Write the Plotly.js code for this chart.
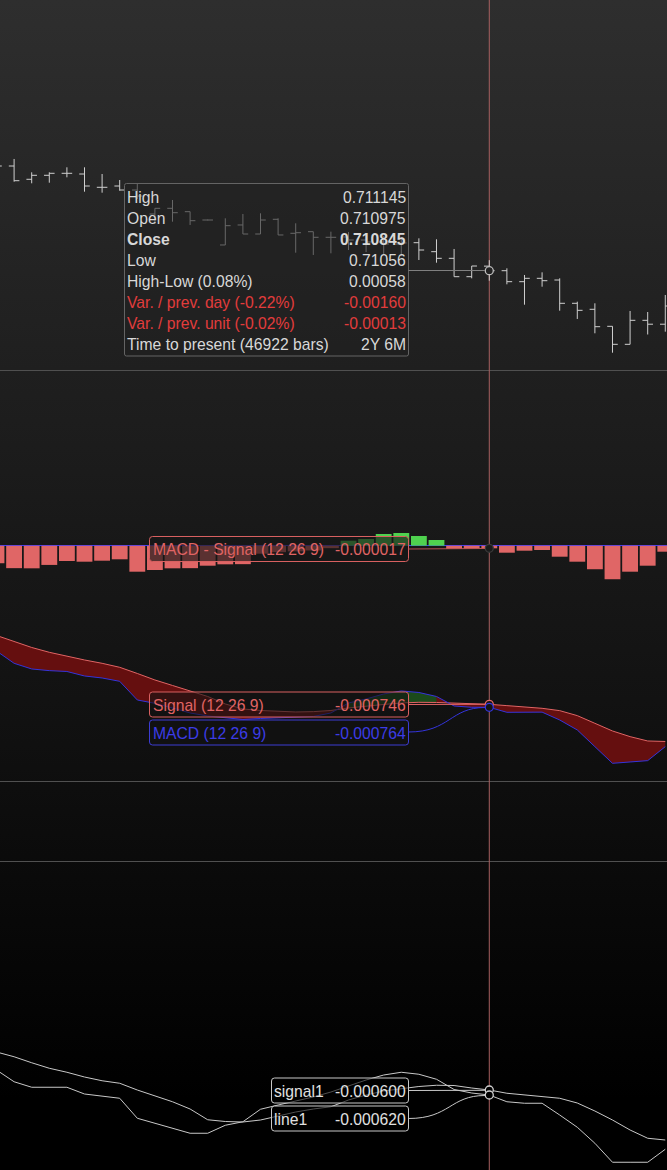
<!DOCTYPE html>
<html><head><meta charset="utf-8">
<script src="https://cdn.plot.ly/plotly-3.0.1.min.js"></script>
<style>
html,body{margin:0;padding:0;width:667px;height:1170px;overflow:hidden;
background:linear-gradient(to bottom,#2e2e2e 0px,#1f1f1f 370px,#121212 700px,#000000 1100px,#000000 1170px);}
#chart{width:667px;height:1170px;}
</style></head><body><div id="chart"></div>
<script>
// ---------- data ----------
const barIndex = [0,1,2,3,4,5,6,7,8,9,10,11,12,13,14,15,16,17,18,19,20,21,22,23,24,25,26,27,28,29,30,31,32,33,34,35,36,37,38];
const crossIdx = 28;

const openP = [0.713772,0.713829,0.713450,0.713564,0.713621,0.713601,0.713222,0.713259,0.713145,0.712461,
  0.712623,0.712527,0.712290,0.711578,0.712148,0.711891,0.712310,0.711911,0.711957,0.711797,
  0.711806,0.711720,0.711663,0.711606,0.711643,0.711387,0.711198,0.710674,0.710975,0.710845,
  0.710532,0.710628,0.710580,0.709916,0.709745,0.709260,0.708747,0.709431,0.709320];
const highP = [0.714000,0.714029,0.713649,0.713649,0.713792,0.713792,0.713601,0.713430,0.713316,0.712623,
  0.712860,0.712527,0.712304,0.712338,0.712461,0.712481,0.712338,0.712196,0.711957,0.711957,
  0.711948,0.711891,0.711834,0.711777,0.711768,0.711740,0.711464,0.710979,0.711145,0.710913,
  0.710723,0.710799,0.710628,0.709962,0.709916,0.709260,0.709697,0.709668,0.710153];
const lowP = [0.713658,0.713382,0.713336,0.713353,0.713507,0.713097,0.713068,0.713125,0.712889,0.712176,
  0.712242,0.712148,0.712276,0.711578,0.711891,0.711891,0.711863,0.711358,0.711293,0.711341,
  0.711435,0.711378,0.711293,0.711264,0.711150,0.711073,0.710674,0.710628,0.71056,0.710457,
  0.709876,0.710389,0.709705,0.709469,0.709061,0.708508,0.708747,0.709027,0.709107];
const closeP = [0.713829,0.713410,0.713564,0.713621,0.713621,0.713259,0.713222,0.713145,0.712974,0.712623,
  0.712498,0.712270,0.712290,0.712128,0.711891,0.712290,0.711863,0.711928,0.711797,0.711797,
  0.711720,0.711663,0.711606,0.711635,0.711435,0.711198,0.710674,0.710979,0.710845,0.710532,
  0.710628,0.710560,0.709916,0.709716,0.709249,0.708747,0.709431,0.709320,0.709839];

const hist = [-0.000114,-0.000146,-0.000147,-0.000125,-0.0000995,-0.000104,-0.0000975,-0.0000884,-0.000169,-0.000158,
  -0.000147,-0.000146,-0.000130,-0.000121,-0.000120,-0.000052,-0.000042,-0.000037,-0.000031,-0.000016,
  0.0000325,0.0000436,0.000076,0.0000826,0.000063,0.000037,-0.0000215,-0.000021,-0.000017,-0.0000455,
  -0.0000325,-0.000028,-0.0000715,-0.000104,-0.000153,-0.000218,-0.000169,-0.000130,-0.000039];
const macd = [-0.000426,-0.000500,-0.000534,-0.000544,-0.000549,-0.000576,-0.000588,-0.000608,-0.000720,-0.000740,
  -0.000768,-0.000798,-0.000816,-0.000825,-0.000837,-0.000831,-0.000828,-0.000826,-0.000819,-0.000798,
  -0.000738,-0.000714,-0.000684,-0.000666,-0.000675,-0.000699,-0.000756,-0.000764,-0.000764,-0.000794,
  -0.000794,-0.000793,-0.000840,-0.000900,-0.001000,-0.001100,-0.001092,-0.001084,-0.001000];
const signal = [-0.000333,-0.000370,-0.000405,-0.000434,-0.000458,-0.000480,-0.000500,-0.000524,-0.000561,-0.000600,
  -0.000633,-0.000664,-0.000699,-0.000744,-0.000774,-0.000783,-0.000789,-0.000792,-0.000790,-0.000783,
  -0.000768,-0.000756,-0.000747,-0.000738,-0.000734,-0.000735,-0.000738,-0.000742,-0.000746,-0.000754,
  -0.000762,-0.000770,-0.000784,-0.000814,-0.000860,-0.000906,-0.000940,-0.000966,-0.000969];
const signal1 = [-0.000448,-0.000467,-0.000491,-0.000513,-0.000529,-0.000548,-0.000563,-0.000573,-0.000600,-0.000624,
  -0.000647,-0.000676,-0.000719,-0.000726,-0.000728,-0.000720,-0.000704,-0.000688,-0.000676,-0.000667,
  -0.000640,-0.000620,-0.000604,-0.000594,-0.000586,-0.000581,-0.000582,-0.000592,-0.000600,-0.000613,
  -0.000620,-0.000626,-0.000633,-0.000652,-0.000684,-0.000720,-0.000760,-0.000793,-0.000800];
const line1 = [-0.000520,-0.000567,-0.000589,-0.000589,-0.000589,-0.000616,-0.000624,-0.000633,-0.000713,-0.000734,
  -0.000754,-0.000773,-0.000773,-0.000741,-0.000727,-0.000677,-0.000660,-0.000644,-0.000628,-0.000608,
  -0.000584,-0.000560,-0.000540,-0.000529,-0.000537,-0.000557,-0.000598,-0.000612,-0.000620,-0.000647,
  -0.000653,-0.000653,-0.000700,-0.000749,-0.000813,-0.000889,-0.000889,-0.000889,-0.000837];

const tipLabels = ["High","Open","Close","Low","High-Low (0.08%)","Var. / prev. day (-0.22%)","Var. / prev. unit (-0.02%)","Time to present (46922 bars)"];
const tipValues = [highP[crossIdx].toFixed(6), openP[crossIdx].toFixed(6), closeP[crossIdx].toFixed(6), String(lowP[crossIdx]), "0.00058", "-0.00160", "-0.00013", "2Y 6M"];
const histName = "MACD - Signal (12 26 9)";
const signalName = "Signal (12 26 9)";
const macdName = "MACD (12 26 9)";
const signal1Name = "signal1";
const line1Name = "line1";

// ---------- styling helpers ----------
const W = 667, H = 1170;
const FONT = "Liberation Sans, Arial, sans-serif";
const FS = 15.7;
const px = x => x / W;
const py = y => 1 - y / H;
const pt = (x, y) => px(x) + "," + py(y);
function rrect(x0, y0, x1, y1, r) {
  return "M" + pt(x0 + r, y0) + " L" + pt(x1 - r, y0) + " Q" + pt(x1, y0) + " " + pt(x1, y0 + r) +
    " L" + pt(x1, y1 - r) + " Q" + pt(x1, y1) + " " + pt(x1 - r, y1) +
    " L" + pt(x0 + r, y1) + " Q" + pt(x0, y1) + " " + pt(x0, y1 - r) +
    " L" + pt(x0, y0 + r) + " Q" + pt(x0, y0) + " " + pt(x0 + r, y0) + " Z";
}
function boxShape(x0, y0, x1, y1, r, line, fill) {
  return {type: "path", xref: "paper", yref: "paper", path: rrect(x0, y0, x1, y1, r),
    line: {color: line, width: 1}, fillcolor: fill, layer: "above"};
}
function lineShape(x0, y0, x1, y1, color) {
  return {type: "line", xref: "paper", yref: "paper", x0: px(x0), y0: py(y0), x1: px(x1), y1: py(y1),
    line: {color: color, width: 1}, layer: "above"};
}
function curveShape(x0, y0, cx1, cy1, cx2, cy2, x1, y1, color) {
  return {type: "path", xref: "paper", yref: "paper",
    path: "M" + pt(x0, y0) + " C" + pt(cx1, cy1) + " " + pt(cx2, cy2) + " " + pt(x1, y1),
    line: {color: color, width: 1}, layer: "above"};
}
function txt(x, y, text, color, anchor, bold) {
  return {xref: "paper", yref: "paper", x: px(x), y: py(y), text: bold ? "<b>" + text + "</b>" : text,
    showarrow: false, xanchor: anchor, yanchor: "middle", borderpad: 0, borderwidth: 0,
    font: {family: FONT, size: FS, color: color}};
}

// ---------- traces ----------
const BARC = "#cfcfcf", RED = "#e06666", GREEN = "#4fd24f", SIG = "#e06464", MAC = "#3434dc";
const traces = [];
traces.push({type: "ohlc", x: barIndex, open: openP, high: highP, low: lowP, close: closeP,
  xaxis: "x", yaxis: "y", tickwidth: 0.3, hoverinfo: "skip",
  increasing: {line: {color: BARC, width: 1}}, decreasing: {line: {color: BARC, width: 1}}});
traces.push({type: "bar", x: barIndex, y: hist, xaxis: "x", yaxis: "y2", width: 0.9,
  marker: {color: hist.map(v => v >= 0 ? GREEN : RED), line: {width: 0}}, hoverinfo: "skip"});
// red fill between signal and macd
traces.push({type: "scatter", mode: "lines", x: barIndex, y: signal, xaxis: "x", yaxis: "y3",
  line: {width: 0, color: SIG}, hoverinfo: "skip"});
traces.push({type: "scatter", mode: "lines", x: barIndex, y: macd, xaxis: "x", yaxis: "y3",
  line: {width: 0, color: MAC}, fill: "tonexty", fillcolor: "#650f0f", hoverinfo: "skip"});
// green fill where macd above signal
const up = barIndex.filter(i => macd[i] > signal[i]);
if (up.length) {
  const a = up[0], b = up[up.length - 1] + 1;
  traces.push({type: "scatter", mode: "lines", x: barIndex.slice(a, b), y: signal.slice(a, b), xaxis: "x", yaxis: "y3",
    line: {width: 0}, hoverinfo: "skip"});
  traces.push({type: "scatter", mode: "lines", x: barIndex.slice(a, b), y: macd.slice(a, b), xaxis: "x", yaxis: "y3",
    line: {width: 0}, fill: "tonexty", fillcolor: "#1b4a1b", hoverinfo: "skip"});
}
traces.push({type: "scatter", mode: "lines", x: barIndex, y: signal, xaxis: "x", yaxis: "y3",
  line: {width: 1, color: SIG}, hoverinfo: "skip"});
traces.push({type: "scatter", mode: "lines", x: barIndex, y: macd, xaxis: "x", yaxis: "y3",
  line: {width: 1, color: MAC}, hoverinfo: "skip"});
traces.push({type: "scatter", mode: "lines", x: barIndex, y: signal1, xaxis: "x", yaxis: "y4",
  line: {width: 1, color: "#c8c8c8"}, hoverinfo: "skip"});
traces.push({type: "scatter", mode: "lines", x: barIndex, y: line1, xaxis: "x", yaxis: "y4",
  line: {width: 1, color: "#c8c8c8"}, hoverinfo: "skip"});
// crosshair markers
function dot(yv, ax, fill, edge) {
  return {type: "scatter", mode: "markers", x: [barIndex[crossIdx]], y: [yv], xaxis: "x", yaxis: ax,
    marker: {symbol: "circle", size: 8, color: fill, line: {color: edge, width: 1.3}}, hoverinfo: "skip"};
}
traces.push(dot(closeP[crossIdx], "y", "#232323", "#bdbdbd"));
traces.push(dot(hist[crossIdx], "y2", "#1a1a1a", "#3a3a3a"));
traces.push(dot(signal[crossIdx], "y3", "#141414", SIG));
traces.push(dot(macd[crossIdx], "y3", "#141414", MAC));
traces.push(dot(signal1[crossIdx], "y4", "#000000", "#d0d0d0"));
traces.push(dot(line1[crossIdx], "y4", "#000000", "#d0d0d0"));

// ---------- layout ----------
const hid = {showgrid: false, zeroline: false, showline: false, showticklabels: false, ticks: "", fixedrange: true};
const shapes = [
  {type: "line", xref: "paper", yref: "paper", x0: 0, x1: 1, y0: py(370.5), y1: py(370.5), line: {color: "#505050", width: 1}, layer: "below"},
  {type: "line", xref: "paper", yref: "paper", x0: 0, x1: 1, y0: py(781.5), y1: py(781.5), line: {color: "#505050", width: 1}, layer: "below"},
  {type: "line", xref: "paper", yref: "paper", x0: 0, x1: 1, y0: py(861.5), y1: py(861.5), line: {color: "#505050", width: 1}, layer: "below"},
  {type: "line", xref: "x", yref: "paper", x0: barIndex[crossIdx], x1: barIndex[crossIdx], y0: 0, y1: 1, line: {color: "#a86060", width: 1}, layer: "below"},
  // tooltip
  boxShape(124.5, 183.5, 408.5, 356, 2, "#646464", "rgba(34,34,34,0.6)"),
  lineShape(408.5, 270.5, 485, 270.5, "#808080"),
  // histogram label
  boxShape(149.5, 536.5, 408.5, 561.5, 3, "#d86060", "rgba(24,24,24,0.67)"),
  lineShape(408.5, 549, 485, 548.5, "#b85555"),
  // signal & macd labels
  boxShape(149.5, 692, 408.5, 717, 3, "#d86060", "rgba(18,18,18,0.6)"),
  lineShape(408.5, 704.5, 485, 704.3, SIG),
  boxShape(149.5, 720, 408.5, 745, 3, "#3c3cd2", "rgba(18,18,18,0.6)"),
  curveShape(408.5, 732, 450, 732, 450, 707.5, 485, 707.5, MAC),
  // bottom labels
  boxShape(271.5, 1078, 408.5, 1103, 3, "#c8c8c8", "rgba(0,0,0,0.6)"),
  lineShape(408.5, 1090.5, 485, 1090.3, "#c8c8c8"),
  boxShape(271.5, 1106, 408.5, 1131, 3, "#c8c8c8", "rgba(0,0,0,0.6)"),
  curveShape(408.5, 1118.5, 450, 1118.5, 450, 1095.5, 485, 1095.5, "#c8c8c8")
];
const annotations = [];
const rowY = [197.5, 218.5, 239.3, 260, 281, 302.5, 323.3, 344];
for (let i = 0; i < tipLabels.length; i++) {
  const red = (i === 5 || i === 6);
  const c = red ? "#e23c3c" : "#d8d8d8";
  annotations.push(txt(127, rowY[i], tipLabels[i], c, "left", i === 2));
  annotations.push(txt(405.5, rowY[i], tipValues[i], c, "right", i === 2));
}
annotations.push(txt(152.5, 549.5, histName, SIG, "left"));
annotations.push(txt(405.5, 549.5, hist[crossIdx].toFixed(6), SIG, "right"));
annotations.push(txt(152.5, 705, signalName, SIG, "left"));
annotations.push(txt(405.5, 705, signal[crossIdx].toFixed(6), SIG, "right"));
annotations.push(txt(152.5, 733, macdName, "#3c3ce6", "left"));
annotations.push(txt(405.5, 733, macd[crossIdx].toFixed(6), "#3c3ce6", "right"));
annotations.push(txt(273.5, 1091, signal1Name, "#e0e0e0", "left"));
annotations.push(txt(405.5, 1091, signal1[crossIdx].toFixed(6), "#e0e0e0", "right"));
annotations.push(txt(273.5, 1119.5, line1Name, "#e0e0e0", "left"));
annotations.push(txt(405.5, 1119.5, line1[crossIdx].toFixed(6), "#e0e0e0", "right"));

const layout = {
  width: W, height: H, margin: {l: 0, r: 0, t: 0, b: 0, pad: 0},
  paper_bgcolor: "rgba(0,0,0,0)", plot_bgcolor: "rgba(0,0,0,0)",
  showlegend: false, hovermode: false, dragmode: false,
  font: {family: FONT, size: FS, color: "#d8d8d8"},
  xaxis: Object.assign({}, hid, {range: [0.199, 38.097], rangeslider: {visible: false}, domain: [0, 1]}),
  yaxis: Object.assign({}, hid, {domain: [1 - 370 / H, 1], range: [0.708015, 0.71856], anchor: "x"}),
  yaxis2: Object.assign({}, hid, {domain: [1 - 781 / H, 1 - 370 / H], range: [-0.0015295, 0.0011421], anchor: "x",
    zeroline: true, zerolinecolor: "#3a3aff", zerolinewidth: 1, layer: "above traces"}),
  yaxis3: Object.assign({}, hid, {domain: [1 - 781 / H, 1 - 370 / H], range: [-0.0012062, 0.0012598], anchor: "x", overlaying: "y2"}),
  yaxis4: Object.assign({}, hid, {domain: [0, 1 - 861 / H], range: [-0.00092, 0.000316], anchor: "x"}),
  bargap: 0.1,
  shapes: shapes, annotations: annotations
};
Plotly.newPlot("chart", traces, layout, {staticPlot: true, displayModeBar: false});
</script>
</body></html>
